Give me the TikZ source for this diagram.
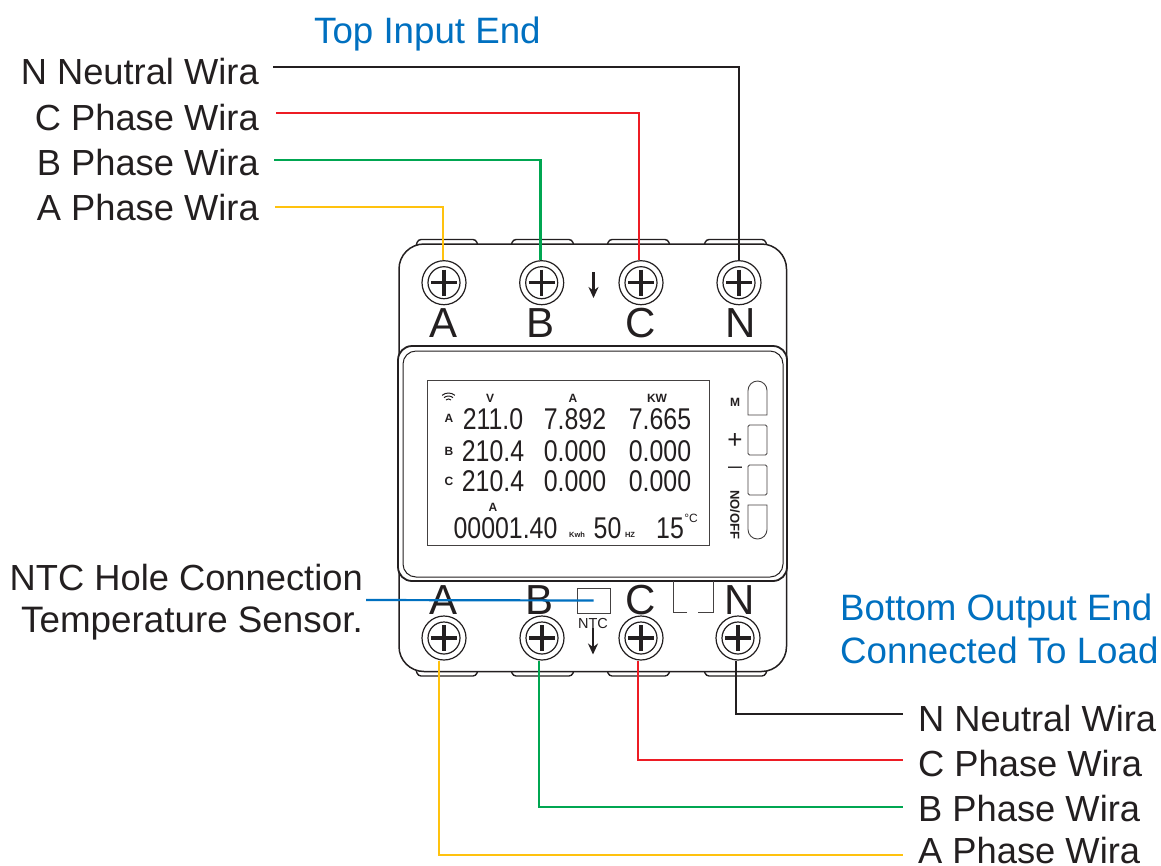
\documentclass[tikz,border=0pt]{standalone}
\usepackage{fontspec}
\setmainfont{Liberation Sans}
\usetikzlibrary{arrows.meta,calc}
\definecolor{ink}{HTML}{231F20}
\definecolor{bluetxt}{HTML}{0070C0}
\definecolor{wred}{HTML}{ED1C24}
\definecolor{wgreen}{HTML}{00A651}
\definecolor{wyellow}{HTML}{FFC20E}
\newcommand\fs[1]{\fontsize{#1}{#1}\selectfont}
\newcommand\lcd[1]{\scalebox{.83}[1]{#1}}
\tikzset{
  outline/.style={draw=ink,line width=1.5pt,fill=white},
  thinbox/.style={draw=ink!85,line width=1pt},
  tabshape/.style={draw=ink,line width=1.4pt,fill=white,rounded corners=3pt},
  wire/.style={line width=2.8pt},
  lbl/.style={inner sep=0pt,text=ink,font=\fs{36.3}},
  bluelbl/.style={inner sep=0pt,text=bluetxt,font=\fs{36.7}},
  term/.style={inner sep=0pt,text=ink,font=\fs{42}},
  ring/.style={circle,draw=ink,line width=1.2pt,fill=white,minimum size=44pt,inner sep=0pt},
  ringin/.style={circle,draw=ink,line width=1.2pt,fill=white,minimum size=32pt,inner sep=0pt},
  crosshead/.style={draw=ink,line width=3.4pt},
  seg/.style={inner sep=0pt,text=ink,font=\fs{30}},
  mini/.style={inner sep=0pt,text=ink,font=\bfseries\fs{12}},
  tiny/.style={inner sep=0pt,text=ink,font=\bfseries\fs{7.5}},
  flow/.style={draw=ink,line width=2.6pt,-{Stealth[length=11pt,width=10pt]}},
}
\newcommand\screw[3]{%
  \node[ring] (#1) at (#2,#3) {};
  \node[ringin] (#1i) at (#2,#3) {};
  \draw[crosshead] ($(#1)+(-13,0)$) -- ($(#1)+(13,0)$);
  \draw[crosshead] ($(#1)+(0,-13)$) -- ($(#1)+(0,13)$);
}
\begin{document}
\begin{tikzpicture}[x=1pt,y=-1pt]
\useasboundingbox (0,0) rectangle (1161,865);
% tabs
\foreach \a/\b in {417/477,512/573,608/669,705/766}{
  \draw[tabshape] (\a-1,246) -- (\a+1,239.5) -- (\b-1,239.5) -- (\b+1,246);
  \draw[tabshape] (\a-1,670) -- (\a+1,676) -- (\b-1,676) -- (\b+1,670);
}
% body
\draw[outline,rounded corners=25pt] (399,244) rectangle (786.5,671.5);
% central panel
\draw[outline,line width=1.8pt,rounded corners=14pt] (398,346) rectangle (787,581);
\draw[draw=ink,line width=1pt,rounded corners=13pt] (403,351) rectangle (783,577);
% LCD
\node[thinbox,minimum width=282pt,minimum height=165pt,inner sep=0pt] (lcd) at (568,462.5) {};
% buttons
\draw[thinbox,line width=.9pt] (748,415) -- (748,390.5) arc[start angle=180,end angle=360,radius=9.5] -- (767,415) -- cycle;
\node[thinbox,line width=.9pt,rounded corners=1.5pt,minimum width=19pt,minimum height=30pt,inner sep=0pt] (btnplus) at (757.5,440) {};
\node[thinbox,line width=.9pt,rounded corners=1.5pt,minimum width=19pt,minimum height=30pt,inner sep=0pt] (btnminus) at (757.5,480) {};
\draw[thinbox,line width=.9pt] (748,505) -- (748,529.5) arc[start angle=180,end angle=0,radius=9.5] -- (767,505) -- cycle;
\node[mini] (tm) at (735,402) {M};
\node[inner sep=0pt,text=ink,font=\fs{26}] (tp) at (735,441) {+};
\node[inner sep=0pt,text=ink,font=\bfseries\fs{14}] (tn) at (735,469) {—};
\node[mini,rotate=-90,font=\bfseries\fs{13}] (toff) at (735,515) {NO/OFF};
% LCD contents
\foreach \r in {4,7,10}{
  \draw[ink,line width=1pt] ([shift={(230:\r)}]448.5,403) arc[start angle=230,end angle=310,radius=\r];
}
\node[mini] (hv) at (490,398) {V};
\node[mini] (ha) at (573,398) {A};
\node[mini] (hk) at (657,398) {KW};
\node[mini] (ra) at (449,418) {A};
\node[mini] (rb) at (449,451) {B};
\node[mini] (rc) at (449,481) {C};
\node[mini] (hb) at (493,507) {A};
\node[seg] (a1) at (493,419) {\lcd{211.0}};
\node[seg] (a2) at (575,419) {\lcd{7.892}};
\node[seg] (a3) at (660,419) {\lcd{7.665}};
\node[seg] (b1) at (493,451.5) {\lcd{210.4}};
\node[seg] (b2) at (575,451.5) {\lcd{0.000}};
\node[seg] (b3) at (660,451.5) {\lcd{0.000}};
\node[seg] (c1) at (493,481.5) {\lcd{210.4}};
\node[seg] (c2) at (575,481.5) {\lcd{0.000}};
\node[seg] (c3) at (660,481.5) {\lcd{0.000}};
\node[seg] (d1) at (505.5,528) {\lcd{00001.40}};
\node[seg] (d2) at (607.5,528) {\lcd{50}};
\node[seg] (d3) at (670,528) {\lcd{15}};
\node[tiny] (kwh) at (577,534.5) {Kwh};
\node[tiny] (hz) at (630,534.5) {HZ};
\node[inner sep=0pt,text=ink,font=\fs{12}] (deg) at (691,518) {°C};
% screws
\screw{tA}{444}{282.7}
\screw{tB}{541.7}{282.7}
\screw{tC}{641}{282.7}
\screw{tN}{739}{282.7}
\screw{bA}{444}{638}
\screw{bB}{542}{638}
\screw{bC}{641}{638}
\screw{bN}{738}{638}
% terminal letters
\node[term] (lta) at (443.5,323) {A};
\node[term] (ltb) at (540,323) {B};
\node[term] (ltc) at (641,323) {C};
\node[term] (ltn) at (741,323) {N};
\node[term] (lba) at (443.5,600) {A};
\node[term] (lbb) at (539,600) {B};
\node[term] (lbc) at (641,600) {C};
\node[term] (lbn) at (740,600) {N};
% flow arrows
\coordinate (ft1) at (593.5,272); \coordinate (ft2) at (593.5,298);
\draw[flow] (ft1) -- (ft2);
\coordinate (fb1) at (593,628); \coordinate (fb2) at (593,654.5);
\draw[flow] (fb1) -- (fb2);
% NTC
\node[thinbox,minimum width=33pt,minimum height=25pt,inner sep=0pt] (ntc) at (593.5,600.5) {};
\node[inner sep=0pt,text=ink,font=\fs{14.5}] (ntct) at (593,623) {NTC};
\draw[thinbox] (687,612) -- (673,612) -- (673,581);
\draw[thinbox] (698,612) -- (713,612) -- (713,581);
% text labels
\node[bluelbl,anchor=west] (title1) at (314,34) {Top Input End};
\node[lbl,anchor=east] (ln1) at (259,72) {N Neutral Wira};
\node[lbl,anchor=east] (ln2) at (259,118) {C Phase Wira};
\node[lbl,anchor=east] (ln3) at (259,163) {B Phase Wira};
\node[lbl,anchor=east] (ln4) at (259,208) {A Phase Wira};
\node[lbl,anchor=east] (nt1) at (363,578) {NTC Hole Connection};
\node[lbl,anchor=east,font=\fs{36.8}] (nt2) at (363,623) {Temperature Sensor.};
\node[bluelbl,anchor=west] (title2) at (840,611) {Bottom Output End};
\node[bluelbl,anchor=west] (title3) at (840,650) {Connected To Load};
\node[lbl,anchor=west] (rn1) at (918,719) {N Neutral Wira};
\node[lbl,anchor=west] (rn2) at (918,764) {C Phase Wira};
\node[lbl,anchor=west] (rn3) at (918,809) {B Phase Wira};
\node[lbl,anchor=west] (rn4) at (918,851) {A Phase Wira};
% wire ends
\coordinate (w1) at (273,67);
\coordinate (w2) at (276,113);
\coordinate (w3) at (274,160);
\coordinate (w4) at (275,207);
\coordinate (e1) at (903,714);
\coordinate (e2) at (903,760);
\coordinate (e3) at (903,807);
\coordinate (e4) at (903,855);
\coordinate (w5) at (366,600);
\draw[wire,ink,line width=2.4pt] (w1) -| (tN.north);
\draw[wire,wred] (w2) -| ([xshift=-2pt]tC.north);
\draw[wire,wgreen] (w3) -| ([xshift=-1pt]tB.north);
\draw[wire,wyellow] (w4) -| ([xshift=-1pt]tA.north);
\draw[wire,ink,line width=2.4pt] ([xshift=-2pt]bN.south) |- (e1);
\draw[wire,wred] ([xshift=-3pt]bC.south) |- (e2);
\draw[wire,wgreen] ([xshift=-3pt]bB.south) |- (e3);
\draw[wire,wyellow] ([xshift=-5pt]bA.south) |- (e4);
\draw[wire,bluetxt,line width=2.2pt] (w5) -- (ntc.center);
\end{tikzpicture}
\end{document}
